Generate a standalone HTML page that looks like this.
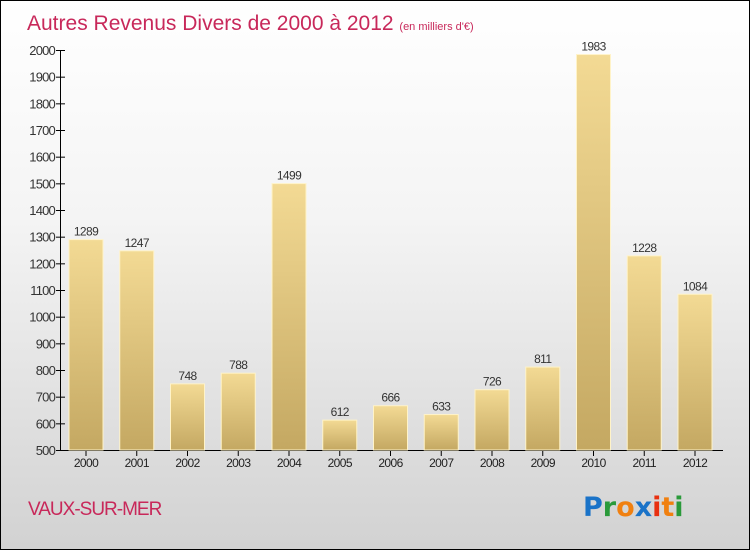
<!DOCTYPE html>
<html><head><meta charset="utf-8"><style>
body{margin:0}
#c{width:748px;height:548px;border:1px solid #000;position:relative;background:linear-gradient(#ffffff,#f4f4f4 40%,#d2d2d2);font-family:"Liberation Sans",sans-serif;overflow:hidden}
</style></head><body>
<div id="c">
<svg id="s" width="748" height="548" xmlns="http://www.w3.org/2000/svg">
<defs><linearGradient id="g" x1="0" y1="0" x2="0" y2="1"><stop offset="0" stop-color="#f3da94"/><stop offset="1" stop-color="#c4a862"/></linearGradient></defs>
<text x="26" y="29" font-size="21" fill="#c8285a">Autres Revenus Divers de 2000 à 2012 <tspan font-size="11">(en milliers d'€)</tspan></text>
<text x="27" y="514" font-size="19" fill="#c8285a" letter-spacing="-1">VAUX-SUR-MER</text>
<g font-size="27" font-family="'DejaVu Sans',sans-serif" font-weight="bold">
<text x="582" y="515" fill="#1a73c8">P<tspan fill="#2a9a3a">r</tspan><tspan fill="#f08010">o</tspan><tspan fill="#1a73c8">x</tspan><tspan fill="#e83010">i</tspan><tspan fill="#f08010">t</tspan><tspan fill="#2a9a3a">i</tspan></text></g>
<g id="plot"></g>
</svg></div>
<script>
const years=["2000","2001","2002","2003","2004","2005","2006","2007","2008","2009","2010","2011","2012"];
const values=[1289,1247,748,788,1499,612,666,633,726,811,1983,1228,1084];
const ticks=[500,600,700,800,900,1000,1100,1200,1300,1400,1500,1600,1700,1800,1900,2000];
const NS="http://www.w3.org/2000/svg";
const g=document.getElementById('plot');
const y=v=>449-(v-500)*400/1500;
const x=i=>85+i*50.75;
function el(t,a,txt){const e=document.createElementNS(NS,t);for(const k in a)e.setAttribute(k,a[k]);if(txt!=null)e.textContent=txt;g.appendChild(e);return e;}
let ax=el('line',{x1:59.5,y1:y(2000),x2:59.5,y2:449.5,stroke:'#000'});


let bx=el('line',{x1:59.5,y1:449.5,x2:722,y2:449.5,stroke:'#000'});


ticks.forEach(t=>{
 el('line',{x1:55,x2:64,y1:y(t)+.5,y2:y(t)+.5,stroke:'#000'});
 let tl=el('text',{x:54,y:y(t)+5,'text-anchor':'end','font-size':13,fill:'#333','letter-spacing':'-0.8'},t);
 
 
});
years.forEach((yr,i)=>{
 const v=values[i];
 let r=el('rect',{x:x(i)-17,y:y(v),width:34,height:449-y(v),fill:'url(#g)',stroke:'#fff3c8','stroke-width':1});
 
 
 el('line',{x1:x(i),x2:x(i),y1:450,y2:455,stroke:'#000'});
 let l=el('text',{x:x(i),y:466,'text-anchor':'middle','font-size':12,fill:'#222','letter-spacing':'-0.6'},yr);
 
 
 let vl=el('text',{x:x(i),y:y(v)-4,'text-anchor':'middle','font-size':12,fill:'#333','letter-spacing':'-0.6'},v);
 
 
});
</script>
</body></html>
